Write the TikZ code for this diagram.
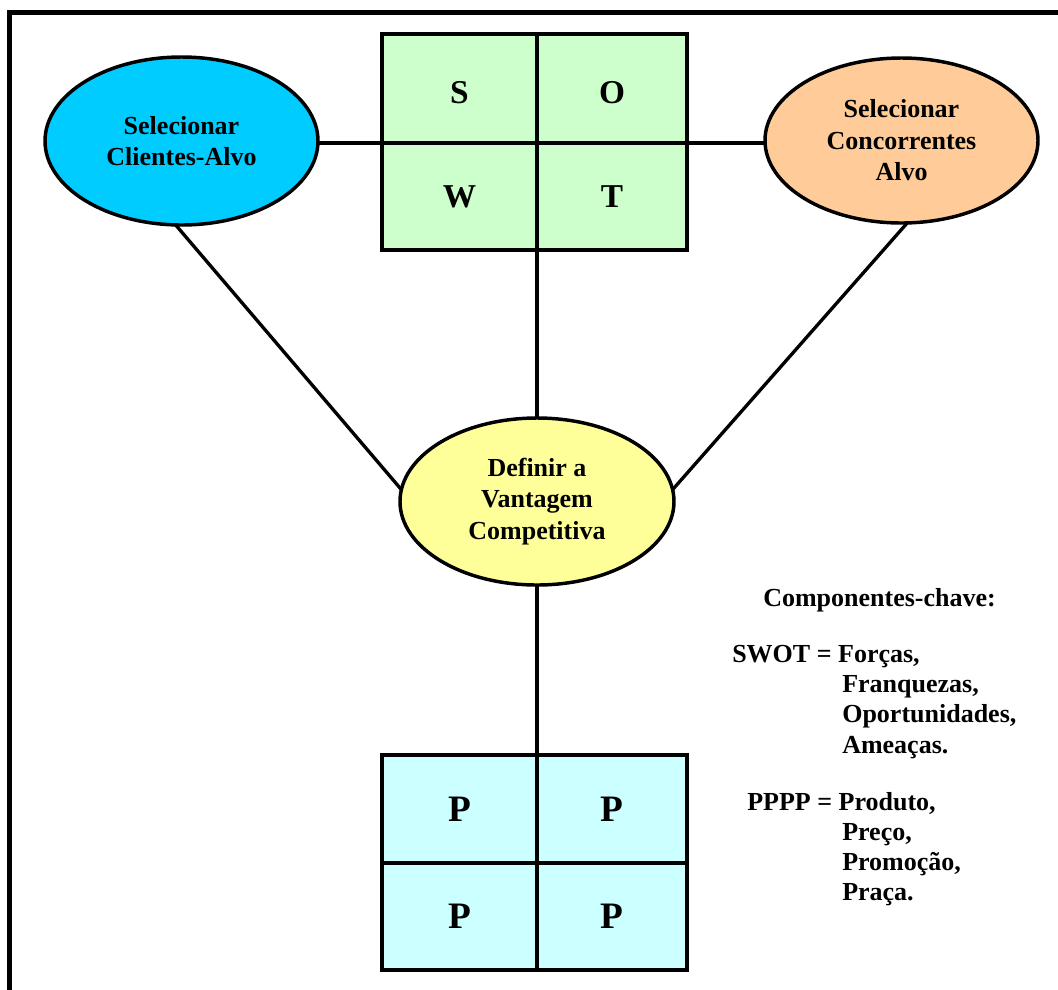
\documentclass[tikz,border=0pt]{standalone}
\usepackage{fontspec}
\setmainfont{Liberation Serif}
\usetikzlibrary{shapes.geometric}

\definecolor{clientblue}{HTML}{00CCFF}
\definecolor{rivalorange}{HTML}{FFCC99}
\definecolor{advyellow}{HTML}{FFFF99}
\definecolor{swotgreen}{HTML}{CCFFCC}
\definecolor{mixcyan}{HTML}{CCFFFF}

\tikzset{
  bubble/.style={ellipse, draw, line width=2.6pt, inner sep=0pt, outer sep=0pt, align=center,
    font=\bfseries\fontsize{19.5}{23.6}\selectfont},
  cell/.style={rectangle, draw, line width=2.4pt, inner sep=0pt, outer sep=0pt},
  swotcell/.style={cell, fill=swotgreen, font=\bfseries\fontsize{25}{30}\selectfont},
  lowtext/.style={text height=23pt, text depth=0pt},
  mixcell/.style={cell, fill=mixcyan, font=\bfseries\fontsize{28}{34}\selectfont},
  link/.style={line width=2.5pt},
  keytext/.style={anchor=base west, inner sep=0pt, font=\bfseries\fontsize{19.5}{23.6}\selectfont},
}

\begin{document}
\begin{tikzpicture}[x=0.75pt, y=-0.75pt]
  \useasboundingbox (0,0) rectangle (1058,990);
  \clip (0,0) rectangle (1058,990);
  \fill[white] (0,0) rectangle (1058,990);

  % outer frame (runs past the right and bottom edges)
  \draw[line width=3.6pt] (9.5,1010) -- (9.5,12.5) -- (1080,12.5);

  % SWOT matrix
  \node[swotcell, lowtext, minimum width=116.25pt, minimum height=81.75pt] (s) at (459.5,88.5) {S};
  \node[swotcell, lowtext, minimum width=112.5pt,  minimum height=81.75pt] (o) at (612,88.5) {O};
  \node[swotcell, minimum width=116.25pt, minimum height=80.25pt] (w) at (459.5,196.5) {W};
  \node[swotcell, minimum width=112.5pt,  minimum height=80.25pt] (t) at (612,196.5) {T};

  % marketing mix matrix
  \node[mixcell, minimum width=116.25pt, minimum height=81pt]    (p1) at (459.5,809) {P};
  \node[mixcell, minimum width=112.5pt,  minimum height=81pt]    (p2) at (612,809) {P};
  \node[mixcell, minimum width=116.25pt, minimum height=80.25pt] (p3) at (459.5,916.5) {P};
  \node[mixcell, minimum width=112.5pt,  minimum height=80.25pt] (p4) at (612,916.5) {P};

  % ellipses
  \node[bubble, fill=clientblue, minimum width=204.75pt, minimum height=126pt]
    (clients) at (181.5,141) {Selecionar\\Clientes-Alvo};
  \node[bubble, fill=rivalorange, minimum width=204.75pt, minimum height=123.75pt]
    (rivals) at (901.5,140.5) {Selecionar\\Concorrentes\\Alvo};
  \node[bubble, fill=advyellow, minimum width=205.5pt, minimum height=125.25pt]
    (advantage) at (537,501.5) {Definir a\\Vantagem\\Competitiva};

  % connectors
  \draw[link] (s.south west -| clients.east) -- (s.south west);
  \draw[link] (o.south east) -- (o.south east -| rivals.west);
  \draw[link] (w.south east) -- (advantage.north);
  \draw[link] (advantage.south) -- (p1.north east);
  \draw[link] (clients.-94.3) -- (advantage.175.2);
  \draw[link] (rivals.-86.4) -- (advantage.5.6);

  % legend
  \node[keytext] (keyhead) at (763,606) {Componentes-chave:};
  \node[keytext] (swot1) at (732,662) {SWOT = Forças,};
  \node[keytext] (swot2) at (842,692) {Franquezas,};
  \node[keytext] (swot3) at (842,722) {Oportunidades,};
  \node[keytext] (swot4) at (842,753) {Ameaças.};
  \node[keytext] (mix1) at (747,810) {PPPP = Produto,};
  \node[keytext] (mix2) at (842,840) {Preço,};
  \node[keytext] (mix3) at (842,870) {Promoção,};
  \node[keytext] (mix4) at (842,900) {Praça.};
\end{tikzpicture}
\end{document}
